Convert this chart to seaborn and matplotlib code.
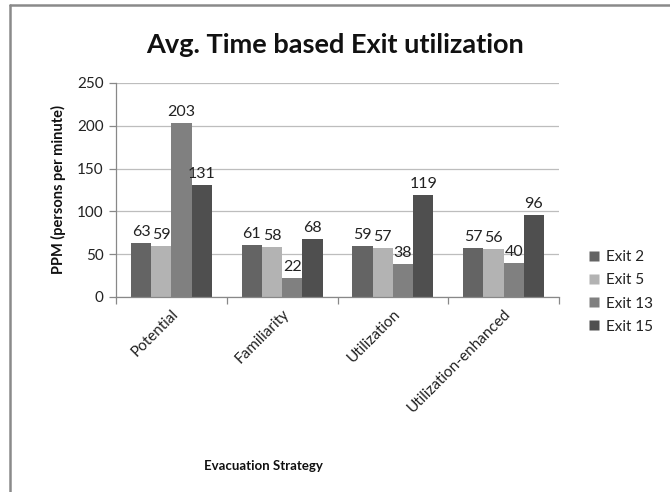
import matplotlib
matplotlib.use("Agg")
import matplotlib.pyplot as plt
from matplotlib.lines import Line2D
import seaborn as sns
import pandas as pd

strategies = ["Potential", "Familiarity", "Utilization", "Utilization-enhanced"]
exits = ["Exit 2", "Exit 5", "Exit 13", "Exit 15"]
exit2 = [63, 61, 59, 57]
exit5 = [59, 58, 57, 56]
exit13 = [203, 22, 38, 40]
exit15 = [131, 68, 119, 96]
y_ticks = [0, 50, 100, 150, 200, 250]

colors = ["#646464", "#b3b3b3", "#808080", "#4f4f4f"]

rows = []
for name, vals in zip(exits, [exit2, exit5, exit13, exit15]):
    for s, v in zip(strategies, vals):
        rows.append({"Strategy": s, "Exit": name, "PPM": v})
df = pd.DataFrame(rows)

sns.set_theme(style="white")
plt.rcParams["font.family"] = ["Lato", "DejaVu Sans"]

fig = plt.figure(figsize=(6.7, 4.92), dpi=100)
ax = fig.add_axes([116 / 670, 1 - 297 / 492, 443 / 670, 214 / 492])

sns.barplot(data=df, x="Strategy", y="PPM", hue="Exit", order=strategies,
            hue_order=exits, palette=colors, width=0.73, saturation=1,
            edgecolor="none", linewidth=0, ax=ax, legend=False)

ax.set_ylim(0, 250)
ax.set_xlim(-0.5, 3.5)
ax.set_yticks(y_ticks)
ax.set_yticklabels([str(t) for t in y_ticks], fontsize=11, color="#222222")
ax.yaxis.grid(True, color="#bdbdbd", linewidth=0.9)
ax.set_axisbelow(True)

# value labels above each bar
for container in ax.containers:
    ax.bar_label(container, fmt="%d", padding=3, fontsize=11.5, color="#222222")

# category labels between boundary tick marks
ax.set_xticks(range(len(strategies)))
ax.set_xticklabels(strategies, rotation=45, ha="right", rotation_mode="anchor",
                   fontsize=11, color="#222222")
ax.tick_params(axis="x", which="major", length=0, pad=7)
ax.set_xticks([-0.5, 0.5, 1.5, 2.5, 3.5], minor=True)
ax.tick_params(axis="x", which="minor", length=5, color="#888888", width=0.9,
               direction="out", bottom=True)
ax.tick_params(axis="y", length=5, color="#888888", width=0.9, direction="out",
               left=True, pad=4)

for side in ["top", "right"]:
    ax.spines[side].set_visible(False)
for side in ["left", "bottom"]:
    ax.spines[side].set_color("#888888")
    ax.spines[side].set_linewidth(0.9)

ax.set_xlabel("")
ax.set_ylabel("PPM (persons per minute)", fontsize=10.5, fontweight="bold",
              color="#111111", labelpad=8)

fig.text(335 / 670, 1 - 45 / 492, "Avg. Time based Exit utilization",
         ha="center", va="center", fontsize=19.5, fontweight="bold", color="#111111")
fig.text(263 / 670, 1 - 466 / 492, "Evacuation Strategy", ha="center",
         va="center", fontsize=9.5, fontweight="bold", color="#111111")

handles = [Line2D([0], [0], marker="s", linestyle="none", markersize=7,
                  markerfacecolor=c, markeredgecolor="none") for c in colors]
fig.legend(handles, exits, loc="center left",
           bbox_to_anchor=(574 / 670, 1 - 292 / 492), frameon=False,
           fontsize=11, handlelength=0.8, handletextpad=0.4, labelspacing=0.6,
           labelcolor="#222222")

# chart-area border
fig.add_artist(Line2D([10 / 670, 1], [1 - 5 / 492, 1 - 5 / 492],
                      transform=fig.transFigure, color="#8a8a8a", linewidth=1.8))
fig.add_artist(Line2D([10 / 670, 10 / 670], [0, 1 - 5 / 492],
                      transform=fig.transFigure, color="#8a8a8a", linewidth=1.8))

fig.savefig("out.png", dpi=100, facecolor="white")
